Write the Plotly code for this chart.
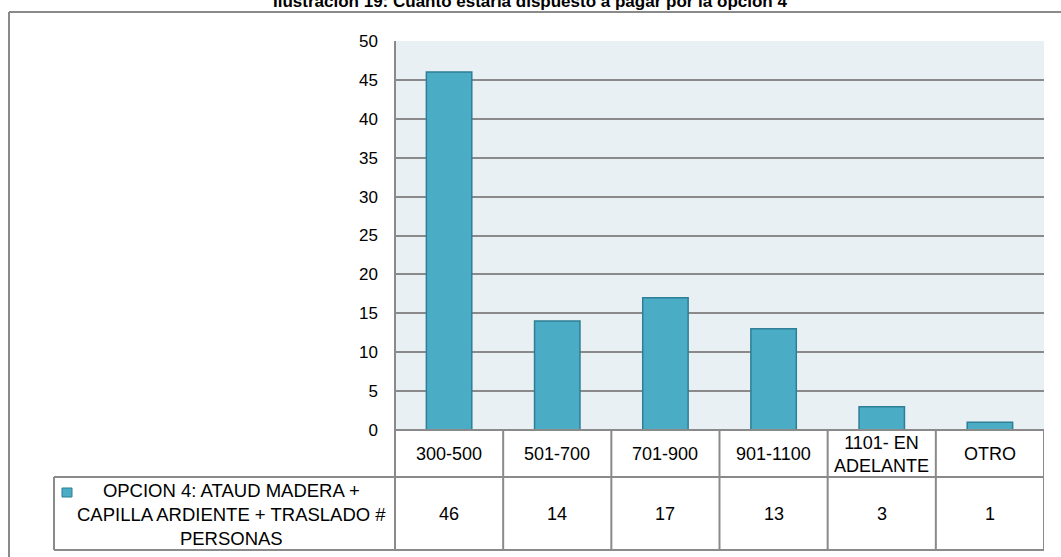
import plotly.graph_objects as go

# data
categories = ["300-500", "501-700", "701-900", "901-1100", "1101- EN<br>ADELANTE", "OTRO"]
values = [46, 14, 17, 13, 3, 1]
series_name = "OPCION 4: ATAUD MADERA +<br>CAPILLA ARDIENTE + TRASLADO #<br>PERSONAS"
title_text = "Ilustración 19: Cuánto estaría dispuesto a pagar por la opción 4"
y_ticks = list(range(0, 51, 5))

W, H = 1061, 557
FONT = "Liberation Sans, Arial, sans-serif"
GRID = "#8A8A8A"
BAR = "#4BACC6"
BAR_LINE = "#2E7E95"


def px(x):
    return x / W


def py(y):
    return 1 - y / H


fig = go.Figure()
fig.add_trace(
    go.Bar(
        x=categories,
        y=values,
        width=0.42,
        marker=dict(color=BAR, line=dict(color=BAR_LINE, width=1.5)),
        name=series_name,
        showlegend=False,
    )
)

shapes = []
line = dict(color=GRID, width=2)
# outer frame (left and top edges only, the rest is cropped)
shapes.append(dict(type="line", xref="paper", yref="paper", x0=px(9), x1=1, y0=py(12), y1=py(12), line=line))
shapes.append(dict(type="line", xref="paper", yref="paper", x0=px(9), x1=px(9), y0=py(12), y1=0, line=line))
# plot area left edge running down through the table
shapes.append(dict(type="line", xref="paper", yref="paper", x0=px(395), x1=px(395), y0=py(41), y1=py(550), line=line))
# table rows
shapes.append(dict(type="line", xref="x", yref="paper", x0=-0.5, x1=len(categories) - 0.5, y0=py(430), y1=py(430), line=line))
for yy in (477, 550):
    shapes.append(dict(type="line", xref="paper", yref="paper", x0=px(54), x1=px(1044), y0=py(yy), y1=py(yy), line=line))
shapes.append(dict(type="line", xref="paper", yref="paper", x0=px(54), x1=px(54), y0=py(477), y1=py(550), line=line))
# table column separators, taken from the category axis
for i in range(len(categories)):
    shapes.append(dict(type="line", xref="x", yref="paper", x0=i + 0.5, x1=i + 0.5, y0=py(430), y1=py(550), line=line))
# legend key
shapes.append(dict(type="rect", xref="paper", yref="paper", x0=px(62), x1=px(72), y0=py(488), y1=py(497),
                   fillcolor=BAR, line=dict(color=BAR_LINE, width=1)))

annotations = [
    dict(text="<b>" + title_text + "</b>", xref="paper", yref="paper", x=px(530), y=py(13), xanchor="center",
         yanchor="bottom", showarrow=False, font=dict(family=FONT, size=17, color="black")),
    dict(text=series_name, xref="paper", yref="paper", x=px(231), y=py(514), xanchor="center", yanchor="middle",
         showarrow=False, font=dict(family=FONT, size=18.5, color="black")),
]
for cat, val in zip(categories, values):
    annotations.append(dict(text=cat, xref="x", yref="paper", x=cat, y=py(454), xanchor="center", yanchor="middle",
                            showarrow=False, font=dict(family=FONT, size=18, color="black")))
    annotations.append(dict(text=str(val), xref="x", yref="paper", x=cat, y=py(514), xanchor="center",
                            yanchor="middle", showarrow=False, font=dict(family=FONT, size=18, color="black")))

fig.update_layout(
    template="none",
    width=W,
    height=H,
    autosize=False,
    margin=dict(l=0, r=0, t=0, b=0, pad=0, autoexpand=False),
    paper_bgcolor="white",
    plot_bgcolor="#E9F0F4",
    bargap=0.58,
    shapes=shapes,
    annotations=annotations,
    xaxis=dict(
        domain=[px(395), px(1044)],
        type="category",
        range=[-0.5, len(categories) - 0.5],
        showticklabels=False,
        showgrid=False,
        showline=False,
        ticks="",
        zeroline=False,
        automargin=False,
        fixedrange=True,
    ),
    yaxis=dict(
        domain=[py(430), py(41)],
        range=[0, 50],
        tickvals=y_ticks,
        ticks="",
        ticklabelstandoff=16,
        showgrid=True,
        gridcolor=GRID,
        gridwidth=1.5,
        showline=False,
        zeroline=False,
        automargin=False,
        tickfont=dict(family=FONT, size=17, color="black"),
        fixedrange=True,
    ),
)

pin = (
    "document.body.style.margin='0';document.body.style.overflow='hidden';"
    "var d=document.getElementById('{plot_id}');"
    "d.style.position='fixed';d.style.top='0px';d.style.left='0px';"
)
fig.write_html("out.html", config={"displayModeBar": False}, post_script=pin)
